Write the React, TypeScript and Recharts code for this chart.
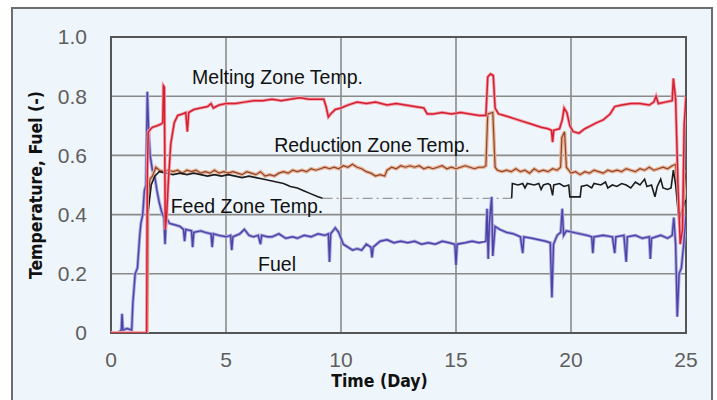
import React from 'react';
import {
  LineChart, Line, XAxis, YAxis, CartesianGrid, ReferenceArea, ReferenceDot,
} from 'recharts';

// [day, value] readings taken off the plot
const meltingZone = [
  [0, 0], [1.55, 0], [1.58, 0.55], [1.62, 0.68], [1.8, 0.695], [2.0, 0.7], [2.15, 0.705], [2.25, 0.71],
  [2.28, 0.835], [2.32, 0.83], [2.36, 0.35], [2.42, 0.4], [2.5, 0.52], [2.6, 0.64], [2.75, 0.71], [2.9, 0.735],
  [3.1, 0.74], [3.25, 0.745], [3.32, 0.68], [3.38, 0.745], [3.6, 0.755], [3.9, 0.76], [4.2, 0.765], [4.35, 0.775],
  [4.45, 0.76], [4.7, 0.77], [5.0, 0.775], [5.4, 0.775], [5.8, 0.78], [6.2, 0.785], [6.6, 0.785], [7.0, 0.79],
  [7.4, 0.785], [7.8, 0.79], [8.2, 0.795], [8.6, 0.79], [9.0, 0.79], [9.25, 0.79], [9.35, 0.765], [9.45, 0.73],
  [9.55, 0.74], [9.75, 0.755], [10.0, 0.76], [10.3, 0.77], [10.7, 0.78], [11.1, 0.775], [11.5, 0.78], [12.0, 0.77],
  [12.4, 0.775], [12.8, 0.77], [13.2, 0.765], [13.6, 0.76], [13.75, 0.74], [14.0, 0.74], [14.4, 0.745], [14.8, 0.74],
  [15.2, 0.745], [15.6, 0.74], [16.0, 0.735], [16.3, 0.735], [16.38, 0.865], [16.5, 0.875], [16.62, 0.87], [16.7, 0.76],
  [16.85, 0.74], [17.1, 0.735], [17.5, 0.725], [17.9, 0.715], [18.3, 0.705], [18.7, 0.695], [19.0, 0.69], [19.15, 0.685],
  [19.2, 0.645], [19.25, 0.685], [19.5, 0.69], [19.62, 0.72], [19.7, 0.76], [19.82, 0.745], [19.95, 0.7], [20.1, 0.68],
  [20.35, 0.675], [20.6, 0.69], [20.85, 0.7], [21.1, 0.71], [21.4, 0.72], [21.7, 0.74], [21.9, 0.765], [22.2, 0.77],
  [22.6, 0.775], [23.0, 0.775], [23.4, 0.77], [23.6, 0.78], [23.7, 0.8], [23.8, 0.775], [24.1, 0.78], [24.4, 0.785],
  [24.45, 0.86], [24.55, 0.79], [24.65, 0.5], [24.75, 0.3], [24.85, 0.35], [24.92, 0.7], [25, 0.8],
];

const reductionZone = [
  [0, 0], [1.57, 0], [1.6, 0.45], [1.7, 0.52], [1.8, 0.53], [1.95, 0.56], [2.1, 0.55], [2.3, 0.545], [2.5, 0.55],
  [2.7, 0.545], [2.9, 0.55], [3.1, 0.54], [3.3, 0.55], [3.5, 0.545], [3.7, 0.55], [3.9, 0.54], [4.1, 0.545],
  [4.3, 0.54], [4.5, 0.55], [4.7, 0.54], [4.9, 0.545], [5.1, 0.54], [5.3, 0.545], [5.5, 0.54], [5.7, 0.535],
  [5.9, 0.545], [6.1, 0.54], [6.3, 0.535], [6.5, 0.545], [6.7, 0.53], [6.9, 0.535], [7.1, 0.53], [7.3, 0.54],
  [7.5, 0.545], [7.7, 0.54], [7.9, 0.55], [8.1, 0.545], [8.3, 0.55], [8.5, 0.545], [8.7, 0.555], [8.9, 0.55],
  [9.1, 0.555], [9.3, 0.56], [9.5, 0.555], [9.7, 0.56], [9.9, 0.555], [10.1, 0.565], [10.3, 0.56], [10.5, 0.57],
  [10.7, 0.56], [10.9, 0.555], [11.1, 0.545], [11.3, 0.54], [11.5, 0.53], [11.7, 0.535], [11.9, 0.53], [12.0, 0.55],
  [12.2, 0.56], [12.4, 0.555], [12.6, 0.565], [12.8, 0.56], [13.0, 0.565], [13.2, 0.56], [13.4, 0.565], [13.6, 0.555],
  [13.8, 0.56], [14.0, 0.555], [14.2, 0.56], [14.4, 0.565], [14.6, 0.555], [14.8, 0.56], [15.0, 0.555], [15.2, 0.56],
  [15.4, 0.565], [15.6, 0.56], [15.8, 0.555], [16.0, 0.56], [16.2, 0.56], [16.3, 0.565], [16.38, 0.74], [16.6, 0.745],
  [16.7, 0.56], [16.8, 0.55], [17.0, 0.545], [17.2, 0.55], [17.4, 0.545], [17.6, 0.555], [17.8, 0.545], [18.0, 0.55],
  [18.2, 0.54], [18.4, 0.555], [18.6, 0.545], [18.8, 0.55], [19.0, 0.545], [19.2, 0.555], [19.4, 0.55], [19.55, 0.56],
  [19.6, 0.66], [19.72, 0.68], [19.8, 0.56], [20.0, 0.54], [20.2, 0.545], [20.4, 0.535], [20.6, 0.545], [20.8, 0.54],
  [21.0, 0.55], [21.2, 0.545], [21.4, 0.54], [21.6, 0.55], [21.8, 0.545], [22.0, 0.55], [22.2, 0.545], [22.4, 0.555],
  [22.6, 0.55], [22.8, 0.545], [23.0, 0.555], [23.2, 0.55], [23.4, 0.56], [23.6, 0.55], [23.8, 0.555], [24.0, 0.56],
  [24.2, 0.555], [24.4, 0.565], [24.55, 0.57], [24.65, 0.45], [24.75, 0.35], [24.85, 0.4], [25, 0.55],
];

// null = no reading (feed zone sensor out between day 9 and 17)
const feedZone = [
  [0, 0], [1.57, 0], [1.6, 0.4], [1.75, 0.5], [1.9, 0.53], [2.1, 0.545], [2.4, 0.54], [2.7, 0.535], [3.0, 0.54],
  [3.3, 0.535], [3.6, 0.54], [3.9, 0.535], [4.2, 0.53], [4.5, 0.535], [4.8, 0.53], [5.1, 0.535], [5.4, 0.53],
  [5.7, 0.525], [6.0, 0.53], [6.3, 0.525], [6.6, 0.52], [6.9, 0.515], [7.2, 0.51], [7.5, 0.505], [7.8, 0.495],
  [8.1, 0.49], [8.4, 0.48], [8.7, 0.47], [9.0, 0.46], [9.2, 0.455], [13, null],
  [17.42, 0.455], [17.45, 0.505], [17.7, 0.5], [17.9, 0.505], [18.0, 0.49], [18.1, 0.505], [18.4, 0.5], [18.6, 0.505],
  [18.7, 0.485], [18.8, 0.5], [19.0, 0.505], [19.1, 0.5], [19.2, 0.465], [19.25, 0.5], [19.5, 0.505], [19.7, 0.495],
  [19.9, 0.5], [19.95, 0.46], [20.4, 0.46], [20.45, 0.495], [20.7, 0.5], [20.9, 0.49], [21.0, 0.505], [21.3, 0.5],
  [21.5, 0.51], [21.6, 0.49], [21.8, 0.5], [22.0, 0.495], [22.2, 0.505], [22.4, 0.5], [22.6, 0.49], [22.8, 0.51],
  [23.0, 0.5], [23.2, 0.52], [23.3, 0.495], [23.5, 0.5], [23.65, 0.46], [23.75, 0.495], [23.9, 0.52], [24.0, 0.49],
  [24.2, 0.485], [24.35, 0.49], [24.45, 0.55], [24.55, 0.5], [24.7, 0.38], [24.85, 0.42], [25, 0.45],
];

const feedZoneGap = [[9.2, 0.455], [17.42, 0.455]];

const fuel = [
  [0, 0], [0.3, 0], [0.45, 0.01], [0.48, 0.065], [0.52, 0.01], [0.7, 0.015], [0.9, 0.01], [0.95, 0.1], [1.05, 0.2],
  [1.15, 0.22], [1.25, 0.33], [1.3, 0.37], [1.38, 0.4], [1.45, 0.48], [1.52, 0.5], [1.58, 0.815], [1.63, 0.7],
  [1.7, 0.6], [1.8, 0.55], [1.9, 0.53], [2.0, 0.48], [2.1, 0.44], [2.2, 0.41], [2.3, 0.39], [2.35, 0.3], [2.4, 0.39],
  [2.55, 0.37], [2.8, 0.365], [3.0, 0.36], [3.15, 0.35], [3.2, 0.31], [3.25, 0.35], [3.5, 0.345], [3.55, 0.29],
  [3.6, 0.34], [3.9, 0.345], [4.1, 0.34], [4.35, 0.335], [4.4, 0.29], [4.45, 0.335], [4.7, 0.33], [5.0, 0.325],
  [5.2, 0.33], [5.25, 0.28], [5.3, 0.325], [5.6, 0.335], [5.8, 0.35], [6.0, 0.33], [6.2, 0.325], [6.4, 0.33],
  [6.5, 0.3], [6.55, 0.33], [6.8, 0.325], [7.0, 0.325], [7.3, 0.335], [7.6, 0.32], [7.9, 0.325], [8.1, 0.32],
  [8.4, 0.33], [8.7, 0.325], [9.0, 0.335], [9.3, 0.33], [9.45, 0.335], [9.5, 0.24], [9.55, 0.335], [9.75, 0.355],
  [9.9, 0.34], [10.1, 0.3], [10.3, 0.29], [10.5, 0.28], [10.7, 0.285], [10.9, 0.28], [11.1, 0.3], [11.3, 0.29],
  [11.35, 0.255], [11.4, 0.29], [11.7, 0.31], [12.0, 0.315], [12.3, 0.305], [12.6, 0.31], [12.9, 0.305], [13.2, 0.31],
  [13.5, 0.3], [13.8, 0.305], [14.1, 0.3], [14.4, 0.31], [14.7, 0.305], [14.95, 0.3], [15.0, 0.23], [15.05, 0.3],
  [15.4, 0.305], [15.7, 0.31], [16.0, 0.305], [16.3, 0.31], [16.35, 0.42], [16.4, 0.25], [16.45, 0.37], [16.55, 0.46],
  [16.6, 0.26], [16.7, 0.36], [16.9, 0.35], [17.2, 0.34], [17.5, 0.335], [17.8, 0.325], [17.9, 0.27], [17.95, 0.325],
  [18.3, 0.32], [18.6, 0.315], [18.9, 0.31], [19.1, 0.305], [19.17, 0.12], [19.24, 0.3], [19.4, 0.33], [19.55, 0.34],
  [19.62, 0.42], [19.68, 0.33], [19.8, 0.345], [20.1, 0.34], [20.4, 0.335], [20.7, 0.33], [20.9, 0.325], [20.95, 0.27],
  [21.0, 0.325], [21.4, 0.33], [21.8, 0.325], [21.9, 0.27], [21.95, 0.325], [22.3, 0.33], [22.4, 0.24], [22.45, 0.325],
  [22.8, 0.33], [23.1, 0.32], [23.4, 0.325], [23.45, 0.25], [23.5, 0.32], [23.9, 0.33], [24.2, 0.32], [24.4, 0.33],
  [24.47, 0.39], [24.55, 0.3], [24.62, 0.055], [24.7, 0.2], [24.8, 0.22], [24.9, 0.3], [25, 0.4],
];

const xTicks = [0, 5, 10, 15, 20, 25];
const yTicks = [0, 0.2, 0.4, 0.6, 0.8, 1.0];

// series name labels, placed at [day, value] of their centre
const seriesLabels = [
  { text: 'Melting Zone Temp.', day: 7.24, value: 0.865 },
  { text: 'Reduction Zone Temp.', day: 11.35, value: 0.635 },
  { text: 'Feed Zone Temp.', day: 5.91, value: 0.429 },
  { text: 'Fuel', day: 7.22, value: 0.233 },
];

const toPoints = (arr) => arr.map(([day, v]) => ({ day, v }));

const tickStyle = { fontFamily: 'Liberation Sans, Arial, sans-serif', fontSize: 21, fill: '#5e5e5e' };
const axisTitle = {
  fontFamily: "'Liberation Sans Narrow', 'DejaVu Sans', sans-serif", fontStretch: 'condensed',
  fontSize: 17.5, fontWeight: 'bold', fill: '#111',
};

export default function App() {
  return (
    <div style={{ position: 'absolute', left: 0, top: 0, width: 717, height: 400, background: '#fff', overflow: 'hidden' }}>
      <div style={{
        position: 'absolute', left: 11, top: 7, width: 698, height: 400,
        border: '2px solid #6d6d6d', background: '#eef5fb',
      }} />
      <div style={{ position: 'absolute', left: 0, top: 0 }}>
        <LineChart width={717} height={400} margin={{ top: 37, right: 31, bottom: 37, left: 11 }}>
          <CartesianGrid stroke="#8a8a8a" strokeWidth={1.6} horizontalValues={yTicks} verticalValues={xTicks} />
          <XAxis
            type="number" dataKey="day" domain={[0, 25]} ticks={xTicks} allowDataOverflow
            height={30} axisLine={false} tickLine={false} tickMargin={13} tick={tickStyle}
            label={{ value: 'Time (Day)', position: 'bottom', offset: 12, dx: -19, style: axisTitle }}
          />
          <YAxis
            type="number" domain={[0, 1]} ticks={yTicks} allowDataOverflow width={100}
            axisLine={false} tickLine={false} tickMargin={18} tick={tickStyle}
            tickFormatter={(v) => (v === 0 ? '0' : v.toFixed(1))}
            label={{ value: 'Temperature, Fuel (-)', angle: -90, position: 'insideLeft', offset: 25, style: { ...axisTitle, textAnchor: 'middle' } }}
          />
          <Line data={toPoints(feedZoneGap)} dataKey="v" stroke="#9a9a9a" strokeWidth={1.3} strokeDasharray="10 4 2 4" dot={false} isAnimationActive={false} />
          <Line data={toPoints(fuel)} dataKey="v" stroke="#a9a4dc" strokeWidth={3.2} dot={false} isAnimationActive={false} />
          <Line data={toPoints(fuel)} dataKey="v" stroke="#4d43a6" strokeWidth={1.4} dot={false} isAnimationActive={false} />
          <Line data={toPoints(reductionZone)} dataKey="v" stroke="#e9b596" strokeWidth={3.6} dot={false} isAnimationActive={false} />
          <Line data={toPoints(reductionZone)} dataKey="v" stroke="#8e452e" strokeWidth={1.2} dot={false} isAnimationActive={false} />
          <Line data={toPoints(feedZone)} dataKey="v" stroke="#1c1c1c" strokeWidth={1.6} dot={false} isAnimationActive={false} />
          <Line data={toPoints(meltingZone)} dataKey="v" stroke="#f1a0aa" strokeWidth={3.2} dot={false} isAnimationActive={false} />
          <Line data={toPoints(meltingZone)} dataKey="v" stroke="#d51f31" strokeWidth={1.5} dot={false} isAnimationActive={false} />
          <ReferenceArea x1={0} x2={25} y1={0} y2={1} fill="none" stroke="#555" strokeWidth={2} />
          {seriesLabels.map((s) => (
            <ReferenceDot
              key={s.text} x={s.day} y={s.value} r={0} fill="none" stroke="none"
              label={{ value: s.text, position: 'center', fill: '#111', fontSize: 19.5, fontFamily: 'Liberation Sans, Arial, sans-serif' }}
            />
          ))}
        </LineChart>
      </div>
    </div>
  );
}
